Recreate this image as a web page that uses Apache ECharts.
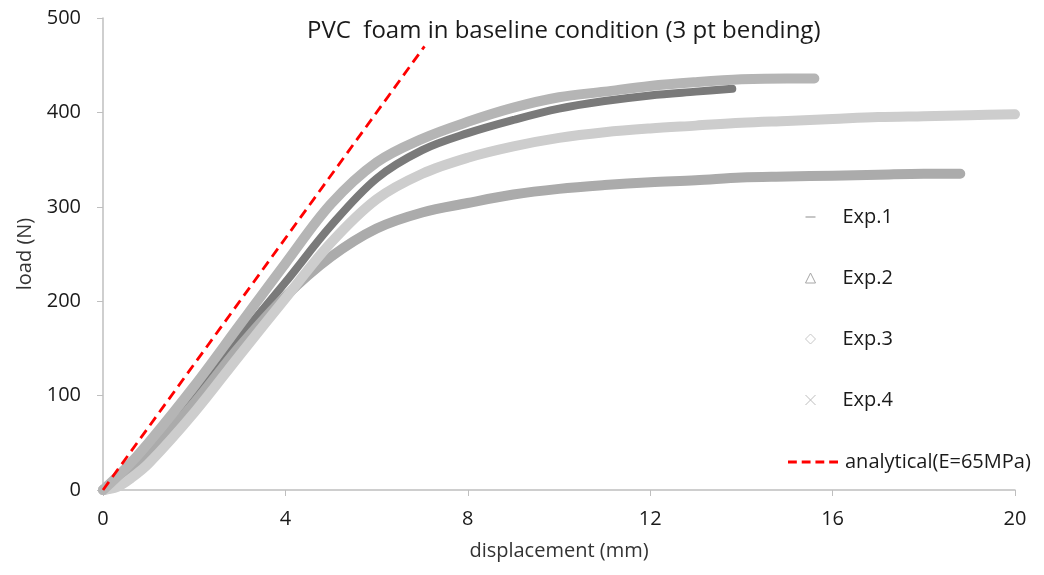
<!DOCTYPE html>
<html>
<head>
<meta charset="utf-8">
<script src="https://cdn.jsdelivr.net/npm/echarts@6/dist/echarts.min.js"></script>
<style>
html,body{margin:0;padding:0;background:#fff;}
#chart{width:1044px;height:575px;}
</style>
</head>
<body>
<div id="chart"></div>
<script>
const titleText = 'PVC  foam in baseline condition (3 pt bending)';
const xTicks = [0, 4, 8, 12, 16, 20];
const yTicks = [0, 100, 200, 300, 400, 500];

const exp1 = [[0,0],[0.5,20],[1,45],[2,103],[3,162],[4,220],[5,280],[6,330],[7,360],[8,378],[9,392],[10,404],[11,412],[12,418],[13,422],[13.8,425]];
const exp2 = [[0,0],[0.3,5],[0.6,18],[1,38],[2,92],[3,152],[4,205],[5,247],[6,277],[7,294],[8,304],[9,313],[10,319],[11,323],[12,326],[13,328],[14,331],[15,332],[16,333],[17,334],[18,335],[18.8,335]];
const exp3 = [[0,0],[0.3,3],[0.6,12],[1,28],[2,82],[3,143],[4,203],[5,262],[6,308],[7,335],[8,352],[9,364],[10,373],[11,379],[12,383],[13,386],[14,389],[15,391],[16,393],[17,395],[18,396],[19,397],[20,398]];
const exp4 = [[0,0],[0.5,23],[1,50],[2,110],[3,175],[4,240],[5,303],[6,347],[7,372],[8,390],[9,405],[10,416],[11,422],[12,428],[13,432],[14,435],[15,436],[15.6,436]];
const analytical = [[0,0],[7.05,470]];

const seriesNames = ['Exp.1','Exp.2','Exp.3','Exp.4','analytical(E=65MPa)'];

const chart = echarts.init(document.getElementById('chart'));
const fontFam = '"Open Sans", Lato, sans-serif';
const bandSeries = (name, data, color, width) => ({
  name, type: 'line', data, smooth: 0.35, symbol: 'none',
  lineStyle: { color, width, cap: 'round', join: 'round' },
  itemStyle: { color },
  z: 2
});

chart.setOption({
  animation: false,
  backgroundColor: '#ffffff',
  title: {
    text: titleText, left: 302, top: 14,
    textStyle: { fontFamily: fontFam, fontSize: 24, fontWeight: 'normal', color: '#1a1a1a' }
  },
  grid: { left: 103, right: 29, top: 18, bottom: 85 },
  legend: [
    {
      orient: 'vertical', left: 800, top: 200,
      itemWidth: 10, itemHeight: 10, itemGap: 37,
      textStyle: { fontFamily: fontFam, fontSize: 20, color: '#1a1a1a', lineHeight: 24, padding: [0,0,0,22] },
      data: [
        { name: 'Exp.1', icon: 'path://M0,4.5h10v1h-10z', itemStyle: { color: '#8c8c8c' } },
        { name: 'Exp.2', icon: 'triangle', itemStyle: { color: 'transparent', borderColor: '#a6a6a6', borderWidth: 1 } },
        { name: 'Exp.3', icon: 'diamond', itemStyle: { color: 'transparent', borderColor: '#c8c8c8', borderWidth: 1 } },
        { name: 'Exp.4', icon: 'path://M0,0L10,10M10,0L0,10', itemStyle: { color: 'transparent', borderColor: '#bdbdbd', borderWidth: 1 } }
      ]
    },
    {
      orient: 'vertical', left: 783, top: 445,
      itemWidth: 50, itemHeight: 3,
      textStyle: { fontFamily: fontFam, fontSize: 20, color: '#1a1a1a', lineHeight: 24, padding: [0,0,0,2] },
      data: [
        { name: 'analytical(E=65MPa)', icon: 'path://M0,0h9v3h-9zM14,0h9v3h-9zM28,0h9v3h-9zM42,0h9v3h-9z', itemStyle: { color: '#ff0000' } }
      ]
    }
  ],
  xAxis: {
    type: 'value', min: 0, max: 20, interval: 4,
    name: 'displacement (mm)', nameLocation: 'middle', nameGap: 51,
    nameTextStyle: { fontFamily: fontFam, fontSize: 20, color: '#333' },
    axisLine: { show: true, lineStyle: { color: '#bfbfbf', width: 1.5 } },
    axisTick: { show: true, length: 6, lineStyle: { color: '#bfbfbf' } },
    axisLabel: { fontFamily: fontFam, fontSize: 20, color: '#1a1a1a', margin: 19,
      formatter: v => xTicks.includes(v) ? String(v) : '' },
    splitLine: { show: false }
  },
  yAxis: {
    type: 'value', min: 0, max: 500, interval: 100,
    name: 'load (N)', nameLocation: 'middle', nameGap: 60, nameRotate: 90,
    nameTextStyle: { fontFamily: fontFam, fontSize: 20, color: '#333' },
    axisLine: { show: true, lineStyle: { color: '#bfbfbf', width: 1.5 } },
    axisTick: { show: true, length: 6, lineStyle: { color: '#bfbfbf' } },
    axisLabel: { fontFamily: fontFam, fontSize: 20, color: '#1a1a1a', margin: 22,
      formatter: v => yTicks.includes(v) ? String(v) : '' },
    splitLine: { show: false }
  },
  series: [
    bandSeries(seriesNames[0], exp1, '#7a7a7a', 8),
    bandSeries(seriesNames[1], exp2, '#ababab', 10),
    bandSeries(seriesNames[2], exp3, '#cdcdcd', 10),
    bandSeries(seriesNames[3], exp4, '#b5b5b5', 10),
    {
      name: seriesNames[4], type: 'line', data: analytical, symbol: 'none',
      lineStyle: { color: '#ff0000', width: 2.8, type: [10, 6] },
      itemStyle: { color: '#ff0000' },
      z: 5
    }
  ]
});
</script>
</body>
</html>
